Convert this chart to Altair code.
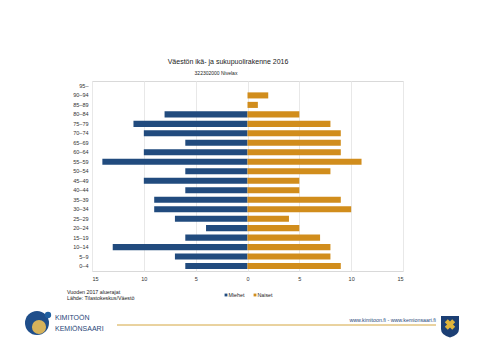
import altair as alt
import pandas as pd

ages = ["95–", "90–94", "85–89", "80–84", "75–79", "70–74", "65–69", "60–64",
        "55–59", "50–54", "45–49", "40–44", "35–39", "30–34", "25–29", "20–24",
        "15–19", "10–14", "5–9", "0–4"]
men = [0, 0, 0, 8, 11, 10, 6, 10, 14, 6, 10, 6, 9, 9, 7, 4, 6, 13, 7, 6]
women = [0, 2, 1, 5, 8, 9, 9, 9, 11, 8, 5, 5, 9, 10, 4, 5, 7, 8, 8, 9]
series = ["Miehet", "Naiset"]
colors = ["#214b7e", "#d18d1c"]
ticks = [-15, -10, -5, 0, 5, 10, 15]

title = "Väestön ikä- ja sukupuolirakenne 2016"
subtitle = "322302000 Nivelax"
footer1 = "Vuoden 2017 aluerajat"
footer2 = "Lähde: Tilastokeskus/Väestö"
url = "www.kimitoon.fi - www.kemionsaari.fi"

rows = []
for a, m, w in zip(ages, men, women):
    rows.append({"age": a, "sex": series[0], "value": -m})
    rows.append({"age": a, "sex": series[1], "value": w})
df = pd.DataFrame(rows)

FONT = "Liberation Sans"

bars = alt.Chart(df).mark_bar().encode(
    y=alt.Y("age:N", sort=ages, title=None,
            scale=alt.Scale(paddingInner=0.36, paddingOuter=0.2),
            axis=alt.Axis(ticks=False, domain=False, labelFontSize=5.5,
                          labelPadding=4, labelColor="#333", labelFont=FONT)),
    x=alt.X("value:Q", title=None,
            scale=alt.Scale(domain=[-15, 15], nice=False),
            axis=alt.Axis(values=ticks, labelExpr="abs(datum.value)", ticks=False,
                          domain=False, gridColor="#e8e8e8", labelFontSize=5.5,
                          labelPadding=5, labelColor="#333", labelFont=FONT)),
    color=alt.Color("sex:N", scale=alt.Scale(domain=series, range=colors), legend=None),
)

one = pd.DataFrame({"k": [0]})
base = alt.Chart(one)

def txt(s, x, y, size=5.5, align="left", color="#222"):
    return base.mark_text(text=s, align=align, baseline="middle", fontSize=size,
                          font=FONT, color=color).encode(
        x=alt.value(x), y=alt.value(y))

def pt(x, y, size, color, shape="square", angle=0):
    return base.mark_point(shape=shape, filled=True, size=size, color=color,
                           opacity=1, angle=angle).encode(x=alt.value(x), y=alt.value(y))

shield = "M-0.9,-1 L0.9,-1 L0.9,0.3 Q0.9,0.9 0,1.15 Q-0.9,0.9 -0.9,0.3 Z"

layers = [
    bars,
    txt(title, 136, -19, size=7, align="center"),
    txt(subtitle, 124, -8, size=5, align="center"),
    txt(footer1, -25, 210.5, size=5.3),
    txt(footer2, -25, 217, size=5.3),
    pt(134, 214, 8, colors[0]),
    txt(series[0], 136.5, 214, size=5.3),
    pt(163, 214, 8, colors[1]),
    txt(series[1], 165.5, 214, size=5.3),
    txt("KIMITOÖN", -37, 237, size=7, color="#1f4678"),
    txt("KEMIÖNSAARI", -37, 248, size=7, color="#1f4678"),
    base.mark_rule(color="#d4a640", strokeWidth=1).encode(
        x=alt.value(25), x2=alt.value(344), y=alt.value(244)),
    txt(url, 344, 238.5, size=5.3, align="right", color="#1f4678"),
    # logo (approximation)
    pt(-55, 242, 576, "#1f4e8a", shape="circle"),
    pt(-53, 246, 200, "#d6b25a", shape="circle"),
    pt(-44, 234, 40, "#1f5fa0", shape="circle"),
    # coat of arms (approximation)
    pt(358, 245, 400, "#1c3f74", shape=shield),
    pt(358, 243.5, 110, "#e0b43a", shape="cross", angle=45),
]

chart = alt.layer(*layers).properties(
    width=311, height=190,
    autosize=alt.AutoSizeParams(type="none"),
    padding={"left": 84, "top": 73, "right": 62, "bottom": 77},
    background="white",
).configure_view(stroke="#d9d9d9")

chart.save("out.html", embed_options={"renderer": "svg", "actions": False})
